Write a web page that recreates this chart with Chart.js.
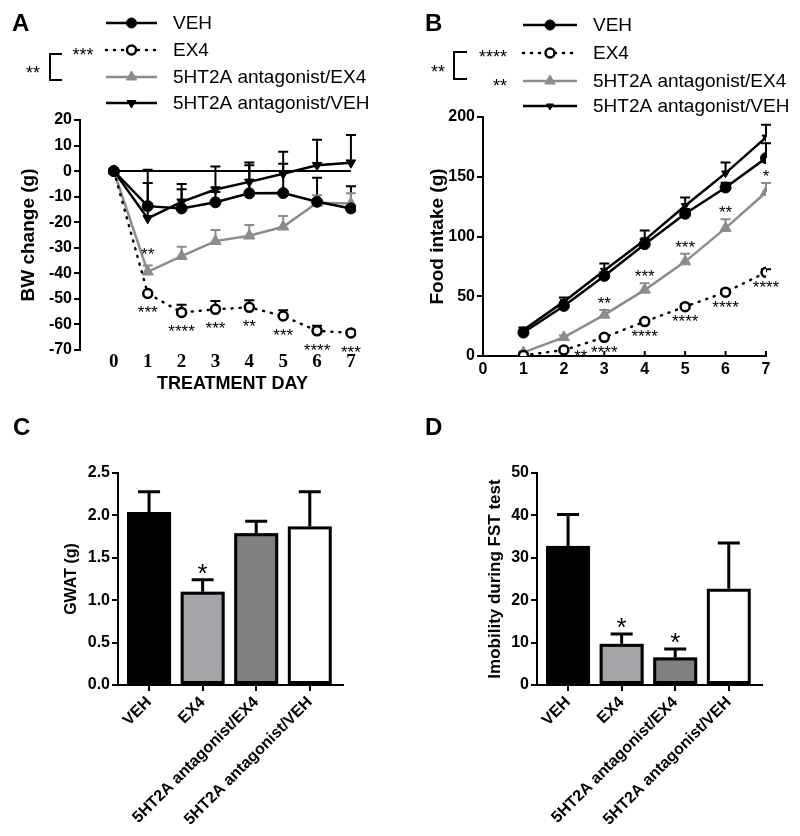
<!DOCTYPE html>
<html lang="en">
<head>
<meta charset="utf-8">
<script src="https://cdn.jsdelivr.net/npm/chart.js@4.4.0/dist/chart.umd.min.js"></script>
<title>EX4 / 5HT2A antagonist</title>
<style>
  body { margin: 0; background: #fff; }
  #wrap { position: relative; width: 800px; height: 836px; }
  canvas { position: absolute; }
</style>
</head>
<body>
<div id="wrap">
  <canvas id="panelA" width="400" height="410" style="left:0;top:0"></canvas>
  <canvas id="panelB" width="400" height="410" style="left:400px;top:0"></canvas>
  <canvas id="panelC" width="400" height="426" style="left:0;top:410px"></canvas>
  <canvas id="panelD" width="400" height="426" style="left:400px;top:410px"></canvas>
</div>
<script>
// groups
const groups = ['VEH', 'EX4', '5HT2A antagonist/EX4', '5HT2A antagonist/VEH']

// A: body weight change (g)
const daysA = [0, 1, 2, 3, 4, 5, 6, 7]
const bwVeh = [0, -13.7, -14.6, -12.2, -8.7, -8.6, -12, -14.6]
const bwVehErr = [0, 9, 7.5, 4, 11, 11.5, 9.4, 8.7]
const bwEx4 = [0, -47.9, -55.3, -54.1, -53.3, -56.7, -62.5, -63.3]
const bwEx4Err = [0, 0, 3, 3.3, 2.8, 2.3, 2, 0.5]
const bwAntEx4 = [0, -39.4, -33.3, -27.4, -25.3, -21.8, -12.4, -12.7]
const bwAntEx4Err = [0, 2.5, 3.7, 4.4, 4.2, 4.2, 3, 4]
const bwAntVeh = [0, -18.5, -12, -7.2, -4.2, -1, 2.3, 3.3]
const bwAntVehErr = [0, 19, 7, 9, 7.6, 8.6, 10, 10.8]
const bwEx4Stars = ['', '***', '****', '***', '**', '***', '****', '***']
const bwAntEx4Stars = ['', '**', '', '', '', '', '', '']
const bwTicks = [20, 10, 0, -10, -20, -30, -40, -50, -60, -70]

// B: cumulative food intake (g)
const daysB = [1, 2, 3, 4, 5, 6, 7]
const fiVeh = [19.6, 41.9, 67, 93.6, 119, 141, 165.6]
const fiVehErr = [2, 3, 3, 4, 4, 4, 12.5]
const fiEx4 = [0.5, 5, 15.6, 28.8, 41.3, 53.4, 70]
const fiEx4Err = [0.5, 1, 1, 1.5, 2, 2, 2.5]
const fiAntEx4 = [3, 15.6, 34.4, 55.3, 79, 107, 137]
const fiAntEx4Err = [1, 1.5, 4, 5.6, 6.5, 7.5, 7.7]
const fiAntVeh = [21.8, 45.5, 71.5, 97, 125.7, 153, 183]
const fiAntVehErr = [2, 3.5, 6, 8, 7, 9, 10.6]
const fiEx4Stars = ['', '**', '****', '****', '****', '****', '****']
const fiAntEx4Stars = ['', '', '**', '***', '***', '**', '*']
const dayTicksB = [0, 1, 2, 3, 4, 5, 6, 7]
const fiTicks = [0, 50, 100, 150, 200]

// C: GWAT (g)
const gwat = [2.04, 1.10, 1.79, 1.87]
const gwatErr = [0.24, 0.14, 0.14, 0.41]
const gwatStars = ['', '*', '', '']
const gwatTicks = [0, 0.5, 1, 1.5, 2, 2.5]

// D: immobility during FST
const fst = [32.8, 9.7, 6.5, 22.7]
const fstErr = [7.4, 2.3, 2.0, 10.8]
const fstStars = ['', '*', '*', '']
const fstTicks = [0, 10, 20, 30, 40, 50]

const SANS = 'Liberation Sans, Arial, sans-serif'
const SERIF = 'Liberation Serif, Times New Roman, serif'
Chart.defaults.font.family = SANS
Chart.defaults.color = '#000'

const grey = '#8c8c8c'
const barFill = ['#000000', '#a5a5a9', '#808080', '#ffffff']

const styVeh = { borderColor: '#000', borderWidth: 2.5, pointStyle: 'circle', pointRadius: 5.5,
  pointBackgroundColor: '#000', pointBorderColor: '#000', pointBorderWidth: 1 }
const styEx4 = { borderColor: '#000', borderWidth: 2.5, borderDash: [1, 7], borderCapStyle: 'round',
  pointStyle: 'circle', pointRadius: 4.5, pointBackgroundColor: '#fff', pointBorderColor: '#000', pointBorderWidth: 2.5 }
const styAntEx4 = { borderColor: grey, borderWidth: 2.5, pointStyle: 'triangle', pointRadius: 6.5,
  pointBackgroundColor: grey, pointBorderColor: grey, pointBorderWidth: 1 }
const styAntVeh = { borderColor: '#000', borderWidth: 2.5, pointStyle: 'triangle', pointRotation: 180, pointRadius: 5.5,
  pointBackgroundColor: '#000', pointBorderColor: '#000', pointBorderWidth: 1 }

function lineSet(label, days, vals, errs, sty, extra) {
  const data = vals.map((v, i) => ({ x: days[i], y: v }))
  return Object.assign({ label: label, data: data, errors: errs, fill: false, tension: 0 }, sty, extra || {})
}
function val(d) { return typeof d === 'object' ? d.y : d }

function starText(ctx, s, x, y, size) {
  ctx.save()
  ctx.font = size + 'px ' + SANS
  ctx.fillStyle = '#000'
  ctx.textAlign = 'center'
  ctx.textBaseline = 'alphabetic'
  ctx.fillText(s, x, y + size * 0.57)
  ctx.restore()
}

function drawErrors(chart, o) {
  const ctx = chart.ctx, ys = chart.scales.y
  chart.data.datasets.forEach((ds, i) => {
    if (!ds.errors) return
    const meta = chart.getDatasetMeta(i)
    ctx.save()
    ctx.lineWidth = o.errWidth
    ctx.setLineDash([])
    ctx.strokeStyle = o.outline ? '#000' : ds.borderColor
    meta.data.forEach((el, j) => {
      const e = ds.errors[j]
      if (!e) return
      const top = ys.getPixelForValue(val(ds.data[j]) + e)
      ctx.beginPath()
      ctx.moveTo(el.x, el.y)
      ctx.lineTo(el.x, top)
      ctx.moveTo(el.x - o.cap / 2, top)
      ctx.lineTo(el.x + o.cap / 2, top)
      ctx.stroke()
    })
    ctx.restore()
  })
}

// black outline round each bar (drawn here so the fill and edge have no seam)
function drawOutlines(chart, o) {
  const ctx = chart.ctx
  const meta = chart.getDatasetMeta(0)
  ctx.save()
  ctx.strokeStyle = '#000'
  ctx.lineWidth = o.outline
  const h = o.outline / 2
  meta.data.forEach(el => {
    const w = el.width
    ctx.strokeRect(el.x - w / 2 + h, el.y + h, w - o.outline, el.base - el.y - o.outline)
  })
  ctx.restore()
}

function drawStars(chart, o) {
  const ys = chart.scales.y
  chart.data.datasets.forEach((ds, i) => {
    if (!ds.stars) return
    const meta = chart.getDatasetMeta(i)
    meta.data.forEach((el, j) => {
      const s = ds.stars[j]
      if (!s) return
      let x = el.x, y
      if (ds.starPos === 'below') y = el.y + o.starGap
      else y = ys.getPixelForValue(val(ds.data[j]) + (ds.errors ? ds.errors[j] : 0)) - o.starGap
      const n = (o.starNudge || {})[i + ':' + j]
      if (n) { x += n[0]; y += n[1] }
      starText(chart.ctx, s, x, y, o.starSize)
    })
  })
}

function drawLegend(chart, lg) {
  const ctx = chart.ctx
  chart.data.datasets.forEach((ds, i) => {
    const y = lg.ys[i]
    ctx.save()
    ctx.strokeStyle = ds.borderColor
    ctx.lineWidth = ds.borderWidth
    ctx.lineCap = ds.borderCapStyle || 'butt'
    ctx.setLineDash(ds.borderDash || [])
    ctx.beginPath()
    ctx.moveTo(lg.x1, y)
    ctx.lineTo(lg.x2, y)
    ctx.stroke()
    ctx.setLineDash([])
    ctx.fillStyle = ds.pointBackgroundColor
    ctx.strokeStyle = ds.pointBorderColor
    ctx.lineWidth = ds.pointBorderWidth
    Chart.helpers.drawPoint(ctx, { pointStyle: ds.pointStyle, radius: lg.radius[i],
      rotation: ds.pointRotation || 0, borderWidth: ds.pointBorderWidth }, (lg.x1 + lg.x2) / 2, y)
    ctx.font = lg.size + 'px ' + SANS
    ctx.fillStyle = '#000'
    ctx.textAlign = 'left'
    ctx.textBaseline = 'middle'
    ctx.fillText(ds.label, lg.tx, y + 1)
    ctx.restore()
  })
}

const decor = {
  id: 'decor',
  beforeDatasetsDraw(chart, args, o) {
    const ctx = chart.ctx, xs = chart.scales.x, ys = chart.scales.y
    ctx.save()
    ctx.strokeStyle = '#000'
    ctx.lineWidth = 2
    if (o.zeroLine) {
      ctx.beginPath()
      ctx.moveTo(xs.getPixelForValue(o.zeroLine[0]), ys.getPixelForValue(0))
      ctx.lineTo(xs.getPixelForValue(o.zeroLine[1]), ys.getPixelForValue(0))
      ctx.stroke()
    }
    if (o.innerTicks) {
      o.innerTicks.forEach(v => {
        const x = xs.getPixelForValue(v)
        ctx.beginPath()
        ctx.moveTo(x, chart.chartArea.bottom)
        ctx.lineTo(x, chart.chartArea.bottom - 5)
        ctx.stroke()
      })
    }
    ctx.restore()
    if (chart.config.type === 'line') drawErrors(chart, o)
  },
  afterDatasetsDraw(chart, args, o) {
    if (chart.config.type === 'bar') {
      drawOutlines(chart, o)
      drawErrors(chart, o)
    }
    drawStars(chart, o)
  },
  afterDraw(chart, args, o) {
    const ctx = chart.ctx
    ctx.save()
    ctx.fillStyle = '#000'
    ctx.font = 'bold 24px ' + SANS
    ctx.textAlign = 'left'
    ctx.textBaseline = 'middle'
    ctx.fillText(o.letter[0], o.letter[1], o.letter[2])
    if (o.xTitle) {
      const xs = chart.scales.x
      ctx.font = 'bold 18px ' + SANS
      ctx.textAlign = 'center'
      ctx.textBaseline = 'alphabetic'
      ctx.fillText(o.xTitle[0], (xs.getPixelForValue(o.xTitle[1]) + xs.getPixelForValue(o.xTitle[2])) / 2, o.xTitle[3])
    }
    if (o.bracket) {
      const b = o.bracket
      ctx.strokeStyle = '#000'
      ctx.lineWidth = 2
      ctx.beginPath()
      ctx.moveTo(b.x2, b.y1)
      ctx.lineTo(b.x1, b.y1)
      ctx.lineTo(b.x1, b.y2)
      ctx.lineTo(b.x2, b.y2)
      ctx.stroke()
      b.marks.forEach(m => starText(ctx, m[0], m[1], m[2], 18))
    }
    ctx.restore()
    if (o.legend) drawLegend(chart, o.legend)
  }
}

const tickFont = { size: 16, weight: 'bold' }
function yAxis(min, max, ticks, width, title, titleSize, titlePad, fmt) {
  return {
    min: min, max: max,
    afterBuildTicks: s => { s.ticks = ticks.map(v => ({ value: v })) },
    afterFit: s => { s.width = width },
    grid: { display: true, drawOnChartArea: false, drawTicks: true, tickLength: 6, color: '#000', lineWidth: 2 },
    border: { display: true, color: '#000', width: 2 },
    ticks: { padding: 2, font: tickFont, color: '#000', callback: fmt || (v => v) },
    title: { display: true, text: title, color: '#000', font: { size: titleSize, weight: 'bold' }, padding: { top: titlePad, bottom: 0 } }
  }
}

// panel A
new Chart('panelA', {
  type: 'line',
  data: {
    datasets: [
      lineSet('VEH', daysA, bwVeh, bwVehErr, styVeh),
      lineSet('EX4', daysA, bwEx4, bwEx4Err, styEx4, { stars: bwEx4Stars, starPos: 'below' }),
      lineSet('5HT2A antagonist/EX4', daysA, bwAntEx4, bwAntEx4Err, styAntEx4, { stars: bwAntEx4Stars, starPos: 'above' }),
      lineSet('5HT2A antagonist/VEH', daysA, bwAntVeh, bwAntVehErr, styAntVeh)
    ]
  },
  options: {
    responsive: false, devicePixelRatio: 1, animation: false,
    layout: { padding: { top: 120, right: 44, left: 0, bottom: 0 } },
    plugins: {
      legend: { display: false }, tooltip: { enabled: false },
      decor: {
        letter: ['A', 12, 24], errWidth: 2, cap: 10, starGap: 15, starSize: 17,
        zeroLine: [0, 7], xTitle: ['TREATMENT DAY', 0, 7, 389],
        legend: { x1: 106, x2: 157, tx: 173, ys: [23, 50, 77, 103], radius: [5, 4.5, 6, 5], size: 19 },
        bracket: { x1: 50, x2: 62, y1: 54, y2: 80, marks: [['***', 83, 51], ['**', 33, 69]] }
      }
    },
    scales: {
      x: {
        type: 'linear', min: -1, max: 7.15,
        afterBuildTicks: s => { s.ticks = daysA.map(v => ({ value: v })) },
        afterFit: s => { s.height = 60 },
        grid: { display: false, drawTicks: false }, border: { display: false },
        ticks: { padding: 1, font: { family: SERIF, size: 19, weight: 'bold' }, color: '#000' }
      },
      y: yAxis(-70, 20, bwTicks, 80, 'BW change (g)', 19, 17)
    }
  },
  plugins: [decor]
})

// panel B
new Chart('panelB', {
  type: 'line',
  data: {
    datasets: [
      lineSet('VEH', daysB, fiVeh, fiVehErr, styVeh),
      lineSet('EX4', daysB, fiEx4, fiEx4Err, styEx4, { stars: fiEx4Stars, starPos: 'below' }),
      lineSet('5HT2A antagonist/EX4', daysB, fiAntEx4, fiAntEx4Err, styAntEx4, { stars: fiAntEx4Stars, starPos: 'above' }),
      lineSet('5HT2A antagonist/VEH', daysB, fiAntVeh, fiAntVehErr, styAntVeh, { pointRadius: 4.5 })
    ]
  },
  options: {
    responsive: false, devicePixelRatio: 1, animation: false,
    layout: { padding: { top: 117, right: 34, left: 0, bottom: 0 } },
    plugins: {
      legend: { display: false }, tooltip: { enabled: false },
      decor: {
        letter: ['B', 25, 24], errWidth: 2, cap: 10, starGap: 11, starSize: 17,
        starNudge: { '1:1': [17, -9] }, innerTicks: [1, 2, 3, 4, 5, 6, 7],
        legend: { x1: 123, x2: 177, tx: 193, ys: [25, 53, 81, 106], radius: [5, 4.5, 6, 4], size: 19 },
        bracket: { x1: 54, x2: 67, y1: 52, y2: 79, marks: [['****', 93, 53], ['**', 38, 68], ['**', 100, 82]] }
      }
    },
    scales: {
      x: {
        type: 'linear', min: 0, max: 7,
        afterBuildTicks: s => { s.ticks = dayTicksB.map(v => ({ value: v })) },
        afterFit: s => { s.height = 54 },
        grid: { display: false, drawTicks: false }, border: { display: true, color: '#000', width: 2 },
        ticks: { padding: 4, font: { size: 16, weight: 'bold' }, color: '#000' }
      },
      y: yAxis(0, 200, fiTicks, 83, 'Food intake (g)', 19, 26)
    }
  },
  plugins: [decor]
})

function barPanel(id, vals, errs, stars, letter, ticks, yMax, yWidth, title, titleSize, titlePad, padRight, fmt) {
  return new Chart(id, {
    type: 'bar',
    data: {
      datasets: [{
        data: vals.map((v, i) => ({ x: i, y: v })), errors: errs, stars: stars, starPos: 'above',
        backgroundColor: barFill, borderWidth: 0,
        barPercentage: 0.82, categoryPercentage: 1
      }]
    },
    options: {
      responsive: false, devicePixelRatio: 1, animation: false,
      layout: { padding: { top: 63, right: padRight, left: 0, bottom: 0 } },
      plugins: {
        legend: { display: false }, tooltip: { enabled: false },
        decor: { letter: [letter, letter === 'C' ? 13 : 25, 18], errWidth: 3, cap: 22, outline: 3, starGap: 13, starSize: 26 }
      },
      scales: {
        x: {
          type: 'linear', min: -0.58, max: 3.62, offset: false,
          afterBuildTicks: s => { s.ticks = groups.map((g, i) => ({ value: i })) },
          afterFit: s => { s.height = 151 },
          grid: { display: true, offset: false, drawOnChartArea: false, drawTicks: true, tickLength: 6, color: '#000', lineWidth: 2 },
          border: { display: true, color: '#000', width: 2 },
          ticks: { minRotation: 45, maxRotation: 45, autoSkip: false, padding: 2, font: { size: 16, weight: 'bold' }, color: '#000',
            callback: v => groups[v] }
        },
        y: yAxis(0, yMax, ticks, yWidth, title, titleSize, titlePad, fmt)
      }
    },
    plugins: [decor]
  })
}

barPanel('panelC', gwat, gwatErr, gwatStars, 'C', gwatTicks, 2.5, 118, 'GWAT (g)', 16, 62, 57, v => v.toFixed(1))
barPanel('panelD', fst, fstErr, fstStars, 'D', fstTicks, 50, 137, 'Imobility during FST test', 17, 85, 38)
</script>
</body>
</html>
